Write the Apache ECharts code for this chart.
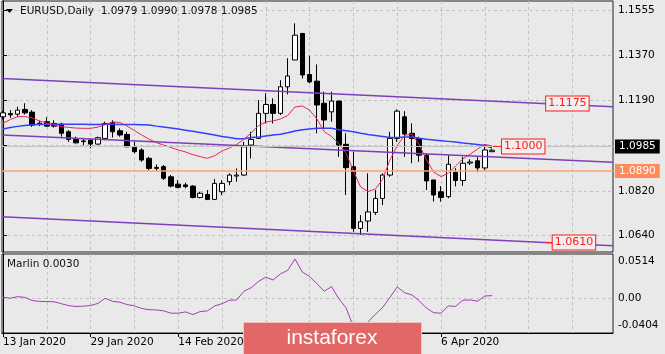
<!DOCTYPE html>
<html>
<head>
<meta charset="utf-8">
<title>EURUSD, Daily</title>
<script src="https://cdn.jsdelivr.net/npm/echarts@6/dist/echarts.min.js"></script>
<style>
html, body { margin: 0; padding: 0; background: #e9e9e9; }
#chart { width: 665px; height: 354px; }
</style>
</head>
<body>
<div id="chart"></div>
<script>
// EURUSD daily bars, 13 Jan 2020 .. 15 Apr 2020 (bar index 0 = 13 Jan)
const opens = [
  1.1121, 1.1134, 1.1132, 1.1151, 1.1140, 1.1091, 1.1101, 1.1094, 1.1091, 1.1060,
  1.1029, 1.1020, 1.1026, 1.1010, 1.1033, 1.1098, 1.1064, 1.1049, 1.0999, 1.0986,
  1.0952, 1.0911, 1.0918, 1.0877, 1.0847, 1.0844, 1.0839, 1.0793, 1.0805, 1.0785,
  1.0816, 1.0857, 1.0880, 1.0884, 1.1006, 1.1033, 1.1135, 1.1171, 1.1135, 1.1243,
  1.1352, 1.1460, 1.1293, 1.1266, 1.1176, 1.1141, 1.1185, 1.1009, 1.0918, 1.0667,
  1.0697, 1.0732, 1.0789, 1.0884, 1.1033, 1.1121, 1.1054, 1.1033, 1.0965, 1.0864,
  1.0816, 1.0796, 1.0895, 1.0862, 1.0933, 1.0942, 1.0913, 1.0979
];
const highs = [
  1.1145, 1.1148, 1.1162, 1.1176, 1.1148, 1.1105, 1.1119, 1.1107, 1.1097, 1.1067,
  1.1040, 1.1033, 1.1033, 1.1040, 1.1101, 1.1107, 1.1074, 1.1060, 1.1019, 1.0993,
  1.0958, 1.0927, 1.0925, 1.0884, 1.0864, 1.0853, 1.0843, 1.0816, 1.0823, 1.0868,
  1.0863, 1.0891, 1.0911, 1.1019, 1.1060, 1.1189, 1.1216, 1.1196, 1.1270, 1.1359,
  1.1501, 1.1460, 1.1369, 1.1334, 1.1223, 1.1223, 1.1185, 1.1054, 1.0979, 1.0721,
  1.0891, 1.0823, 1.0891, 1.1060, 1.1151, 1.1144, 1.1094, 1.1040, 1.0972, 1.0864,
  1.0839, 1.0965, 1.0912, 1.0958, 1.0948, 1.0957, 1.1009, 1.0990
];
const lows = [
  1.1110, 1.1117, 1.1121, 1.1130, 1.1080, 1.1083, 1.1080, 1.1077, 1.1040, 1.1019,
  1.1013, 1.1005, 1.0993, 1.1006, 1.1026, 1.1037, 1.1040, 1.0997, 1.0972, 1.0938,
  1.0904, 1.0900, 1.0864, 1.0834, 1.0830, 1.0830, 1.0789, 1.0789, 1.0782, 1.0782,
  1.0803, 1.0843, 1.0857, 1.0880, 1.0952, 1.1033, 1.1094, 1.1094, 1.1128, 1.1212,
  1.1352, 1.1277, 1.1257, 1.1054, 1.1074, 1.1101, 1.0958, 1.0803, 1.0653, 1.0640,
  1.0653, 1.0722, 1.0762, 1.0877, 1.1019, 1.0958, 1.0932, 1.0938, 1.0823, 1.0776,
  1.0776, 1.0790, 1.0838, 1.0840, 1.0925, 1.0896, 1.0904, 1.0978
];
const closes = [
  1.1137, 1.1129, 1.1148, 1.1137, 1.1087, 1.1095, 1.1083, 1.1083, 1.1054, 1.1029,
  1.1015, 1.1023, 1.1010, 1.1036, 1.1094, 1.1060, 1.1047, 1.0999, 1.0979, 1.0945,
  1.0911, 1.0915, 1.0871, 1.0839, 1.0834, 1.0837, 1.0793, 1.0810, 1.0785, 1.0850,
  1.0850, 1.0884, 1.0884, 1.0999, 1.1029, 1.1135, 1.1171, 1.1135, 1.1243, 1.1287,
  1.1453, 1.1291, 1.1263, 1.1169, 1.1108, 1.1185, 1.1006, 1.0914, 1.0667, 1.0694,
  1.0734, 1.0789, 1.0884, 1.1033, 1.1144, 1.1051, 1.1033, 1.0965, 1.0860, 1.0803,
  1.0793, 1.0928, 1.0862, 1.0932, 1.0937, 1.0913, 1.0986, 1.0985
];

// moving averages as drawn (red = fast, blue = slow)
const maFast = [
  1.1094, 1.1110, 1.1121, 1.1122, 1.1116, 1.1104, 1.1095, 1.1087, 1.1081, 1.1078,
  1.1075, 1.1074, 1.1074, 1.1079, 1.1089, 1.1100, 1.1098, 1.1083, 1.1065, 1.1047,
  1.1030, 1.1016, 1.1006, 1.0996, 1.0986, 1.0978, 1.0967, 1.0959, 1.0952, 1.0963,
  1.0982, 1.0994, 1.1008, 1.1030, 1.1055, 1.1085, 1.1100, 1.1104, 1.1112, 1.1126,
  1.1161, 1.1165, 1.1148, 1.1112, 1.1061, 1.1041, 1.1012, 1.0973, 1.0900, 1.0835,
  1.0817, 1.0827, 1.0866, 1.0945, 1.1004, 1.1045, 1.1051, 1.1008, 1.0947, 1.0896,
  1.0878, 1.0891, 1.0921, 1.0950, 1.0969, 1.0990, 1.1009, 1.1002
];
const maSlow = [
  1.1071, 1.1077, 1.1082, 1.1086, 1.1089, 1.1090, 1.1091, 1.1091, 1.1091, 1.1091,
  1.1091, 1.1091, 1.1090, 1.1090, 1.1091, 1.1091, 1.1090, 1.1090, 1.1090, 1.1089,
  1.1088, 1.1083, 1.1079, 1.1075, 1.1071, 1.1066, 1.1062, 1.1057, 1.1052, 1.1047,
  1.1041, 1.1037, 1.1032, 1.1032, 1.1037, 1.1039, 1.1043, 1.1047, 1.1050, 1.1056,
  1.1063, 1.1068, 1.1071, 1.1074, 1.1074, 1.1074, 1.1068, 1.1064, 1.1060, 1.1054,
  1.1049, 1.1045, 1.1041, 1.1037, 1.1037, 1.1039, 1.1039, 1.1034, 1.1030, 1.1027,
  1.1024, 1.1021, 1.1018, 1.1014, 1.1011, 1.1008, 1.1004, 1.0994
];

// Marlin oscillator (lower window)
const marlin = [
  0.0012, 0.0000, 0.0019, 0.0009, -0.0027, -0.0037, -0.0039, -0.0041, -0.0064, -0.0086,
  -0.0096, -0.0092, -0.0085, -0.0060, -0.0001, -0.0036, -0.0046, -0.0074, -0.0089, -0.0119,
  -0.0133, -0.0136, -0.0147, -0.0173, -0.0174, -0.0159, -0.0191, -0.0155, -0.0147, -0.0089,
  -0.0063, -0.0023, -0.0020, 0.0081, 0.0122, 0.0195, 0.0245, 0.0212, 0.0282, 0.0325,
  0.0456, 0.0305, 0.0253, 0.0168, 0.0082, 0.0135, -0.0006, -0.0113, -0.0333, -0.0379,
  -0.0275, -0.0188, -0.0107, 0.0009, 0.0131, 0.0065, 0.0038, -0.0028, -0.0113, -0.0168,
  -0.0174, -0.0089, -0.0095, -0.0022, -0.0020, -0.0035, 0.0026, 0.0030
];

const priceTicks = [1.1555, 1.1370, 1.1190, 1.1005, 1.0820, 1.0640];
const marlinTicks = [0.0514, 0, -0.0404];
const dateLabels = ['13 Jan 2020', '29 Jan 2020', '14 Feb 2020', '3 Mar 2020', '19 Mar 2020', '6 Apr 2020'];
const dateBars = [0, 12, 24, 36, 48, 60];
const gridBars = [0, 6, 12, 18, 24, 30, 36, 42, 48, 54, 60, 66, 72, 78];

// channel lines: price at left edge / right edge of the window
const channelLeft = [1.1277, 1.1047, 1.0714];
const channelRight = [1.1162, 1.0936, 1.0596];
// price label objects
const labelPrices = [1.1175, 1.1000, 1.0610];
const labelFrom = [73.1, 67.1, 74.25];
const labelTo = [74.4, 68.35, 75.3];
const levelPrice = 1.0890;
const bidPrice = 1.0985;

const xMin = -0.14, xMax = 83.56;
const yMin = 1.0571, yMax = 1.1592;
const mMin = -0.0404, mMax = 0.0514;

const FONT = 'DejaVu Sans';
const chart = echarts.init(document.getElementById('chart'));

const candles = opens.map((o, i) => [i, o, closes[i], lows[i], highs[i]]);
const last = candles.length - 1;
const dash = { type: [3, 3], color: '#c2c2c2', width: 1 };

const option = {
  animation: false,
  backgroundColor: '#e9e9e9',
  textStyle: { fontFamily: FONT },
  grid: [
    { left: 2, right: 52, top: 1, height: 251, show: true, borderColor: '#222', borderWidth: 1 },
    { left: 2, right: 52, top: 254, height: 79, show: true, borderColor: '#222', borderWidth: 1 }
  ],
  xAxis: [
    {
      type: 'value', gridIndex: 0, min: xMin, max: xMax,
      axisLine: { show: false }, axisLabel: { show: false },
      axisTick: { show: false, customValues: gridBars },
      splitLine: { show: true, lineStyle: dash }
    },
    {
      type: 'value', gridIndex: 1, min: xMin, max: xMax, position: 'bottom',
      axisLine: { show: true, onZero: false, lineStyle: { color: '#000' } },
      axisTick: { show: true, length: 4, customValues: dateBars, lineStyle: { color: '#000' } },
      axisLabel: {
        customValues: dateBars, align: 'left', margin: 4,
        color: '#000', fontSize: 10.5, fontFamily: FONT,
        formatter: v => dateLabels[dateBars.indexOf(Math.round(v))] || ''
      },
      splitLine: { show: false }
    },
    {
      type: 'value', gridIndex: 1, min: xMin, max: xMax, position: 'top',
      axisLine: { show: false }, axisLabel: { show: false },
      axisTick: { show: false, customValues: gridBars },
      splitLine: { show: true, lineStyle: dash }
    }
  ],
  yAxis: [
    {
      type: 'value', gridIndex: 0, position: 'right', min: yMin, max: yMax,
      axisLine: { show: true, lineStyle: { color: '#000' } },
      axisTick: { show: true, length: 4, customValues: priceTicks, lineStyle: { color: '#000' } },
      axisLabel: {
        customValues: priceTicks, margin: 5, color: '#000',
        fontSize: 10.5, fontFamily: FONT, formatter: v => v.toFixed(4)
      },
      splitLine: { show: true, lineStyle: dash }
    },
    {
      type: 'value', gridIndex: 1, position: 'right', min: mMin, max: mMax,
      axisLine: { show: true, lineStyle: { color: '#000' } },
      axisTick: { show: false, customValues: [0] },
      axisLabel: {
        customValues: marlinTicks, margin: 5, color: '#000',
        fontSize: 10.5, fontFamily: FONT,
        formatter: v => v > 0.01 ? '{top|' + v.toFixed(4) + '}'
          : v < -0.01 ? '{bot|' + v.toFixed(4) + '}' : '0.00',
        rich: {
          top: { padding: [15, 0, 0, 0], fontSize: 10.5, fontFamily: FONT, color: '#000' },
          bot: { padding: [0, 0, 16, 0], fontSize: 10.5, fontFamily: FONT, color: '#000' }
        }
      },
      splitLine: { show: true, lineStyle: dash }
    }
  ],
  series: [
    {
      // level line, bid line and their axis tags
      type: 'line', xAxisIndex: 0, yAxisIndex: 0, data: [], z: 1,
      markLine: {
        silent: true, symbol: 'none', animation: false,
        data: [
          {
            yAxis: levelPrice,
            lineStyle: { color: '#ffa07a', width: 1.5, type: 'solid' },
            label: {
              position: 'end', distance: 2, formatter: levelPrice.toFixed(4),
              backgroundColor: '#ff8a5c', color: '#fff', padding: [2, 4, 1, 4],
              fontSize: 10.5, fontFamily: FONT
            }
          },
          {
            yAxis: bidPrice,
            lineStyle: { color: '#c6c6c6', width: 1, type: 'solid' },
            label: {
              position: 'end', distance: 2, formatter: bidPrice.toFixed(4),
              backgroundColor: '#000', color: '#fff', padding: [2, 4, 1, 4],
              fontSize: 10.5, fontFamily: FONT
            }
          }
        ]
      }
    },
    {
      type: 'candlestick', xAxisIndex: 0, yAxisIndex: 0, data: candles,
      barWidth: 5, z: 2,
      itemStyle: {
        color: '#ffffff', color0: '#000000',
        borderColor: '#000000', borderColor0: '#000000', borderWidth: 1
      }
    },
    {
      type: 'line', xAxisIndex: 0, yAxisIndex: 0, z: 3,
      data: maSlow.map((v, i) => [i, v]), showSymbol: false,
      lineStyle: { color: '#3140ff', width: 1.5 }
    },
    {
      type: 'line', xAxisIndex: 0, yAxisIndex: 0, z: 3,
      data: maFast.map((v, i) => [i, v]), showSymbol: false,
      lineStyle: { color: '#ee2456', width: 1 }
    },
    ...channelLeft.map((p, k) => ({
      type: 'line', xAxisIndex: 0, yAxisIndex: 0, z: 3,
      data: [[xMin, p], [xMax, channelRight[k]]], showSymbol: false,
      lineStyle: { color: '#7d3fba', width: 1.5 }
    })),
    {
      type: 'line', xAxisIndex: 0, yAxisIndex: 0, data: [], z: 4,
      markLine: {
        silent: true, symbol: 'none', animation: false,
        lineStyle: { color: '#ff2020', width: 1, type: 'solid' },
        label: {
          position: 'end', distance: 0, formatter: '{b}',
          color: '#ff1a1a', borderColor: '#ff1a1a', borderWidth: 1,
          backgroundColor: '#f0eeee', padding: [2, 2, 1, 2],
          fontSize: 11, fontFamily: FONT
        },
        data: labelPrices.map((p, k) => [
          { name: p.toFixed(4), coord: [labelFrom[k], p] },
          { coord: [labelTo[k], p] }
        ])
      }
    },
    {
      type: 'line', xAxisIndex: 1, yAxisIndex: 1, z: 3,
      data: marlin.map((v, i) => [i, v]), showSymbol: false,
      lineStyle: { color: '#a43cb4', width: 1 }
    }
  ],
  graphic: [
    {
      type: 'polygon', z: 50,
      shape: { points: [[6, 9], [13, 9], [9.5, 13]] },
      style: { fill: '#000' }
    },
    {
      type: 'text', z: 50, x: 20, y: 11.5,
      style: {
        text: 'EURUSD,Daily  ' + [opens[last], highs[last], lows[last], closes[last]].map(v => v.toFixed(4)).join(' '),
        fill: '#111', font: '10.5px "' + FONT + '"', verticalAlign: 'middle'
      }
    },
    {
      type: 'text', z: 50, x: 7, y: 264,
      style: {
        text: 'Marlin ' + marlin[last].toFixed(4),
        fill: '#111', font: '10.5px "' + FONT + '"', verticalAlign: 'middle'
      }
    },
    {
      type: 'group', z: 100,
      children: [
        {
          type: 'rect', z: 100,
          shape: { x: 243.5, y: 322.5, width: 178, height: 34 },
          style: { fill: '#e26868', stroke: '#f2c4c4', lineWidth: 1 }
        },
        {
          type: 'text', z: 101, x: 332, y: 338,
          style: {
            text: 'instaforex', fill: '#fff', font: '21px "Liberation Sans"',
            align: 'center', verticalAlign: 'middle'
          }
        }
      ]
    }
  ]
};

chart.setOption(option);
window.addEventListener('resize', () => chart.resize());
</script>
</body>
</html>
